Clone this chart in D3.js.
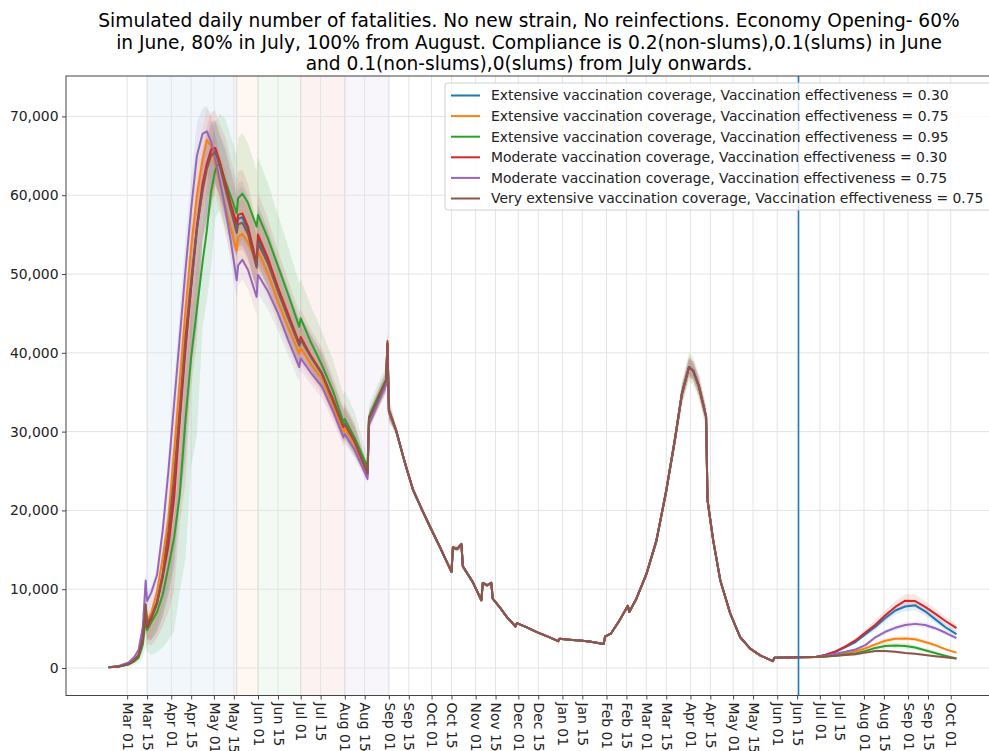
<!DOCTYPE html>
<html>
<head>
<meta charset="utf-8">
<script src="https://cdn.jsdelivr.net/npm/d3@7"></script>
<style>
  body { margin: 0; background: #fff; }
  svg text { font-family: "DejaVu Sans", sans-serif; }
</style>
</head>
<body>
<div id="chart"></div>
<script>
// ---- data ----
var wave1Dates = ["2020-02-17","2020-02-24","2020-03-02","2020-03-06","2020-03-09","2020-03-12","2020-03-14","2020-03-15","2020-03-18","2020-03-22",
  "2020-03-26","2020-03-30","2020-04-03","2020-04-07","2020-04-11","2020-04-15","2020-04-19","2020-04-23","2020-04-26","2020-04-29",
  "2020-05-02","2020-05-05","2020-05-09","2020-05-13","2020-05-17","2020-05-18","2020-05-21","2020-05-25","2020-05-31","2020-06-01",
  "2020-06-08","2020-06-15","2020-06-22","2020-06-30","2020-07-01","2020-07-08","2020-07-16","2020-07-24","2020-07-31","2020-08-01",
  "2020-08-08","2020-08-17","2020-08-18","2020-08-24","2020-08-30","2020-08-31","2020-09-01"];
var midDates = ["2020-09-06","2020-09-12","2020-09-18","2020-09-24","2020-09-30","2020-10-07","2020-10-15","2020-10-16","2020-10-19","2020-10-22",
  "2020-10-23","2020-10-30","2020-11-05","2020-11-06","2020-11-09","2020-11-12","2020-11-13","2020-11-18","2020-11-23","2020-11-29",
  "2020-11-30","2020-12-07","2020-12-14","2020-12-21","2020-12-29","2020-12-30","2021-01-06","2021-01-13","2021-01-20","2021-01-30",
  "2021-01-31","2021-02-04","2021-02-10","2021-02-16","2021-02-17","2021-02-22","2021-03-01","2021-03-08","2021-03-15","2021-03-21",
  "2021-03-26","2021-03-31","2021-04-03","2021-04-07","2021-04-12","2021-04-13","2021-04-17","2021-04-22","2021-04-29","2021-05-06",
  "2021-05-13","2021-05-20","2021-05-29","2021-05-30","2021-06-16","2021-06-28"];
var endDates = ["2021-07-05","2021-07-12","2021-07-19","2021-07-26","2021-08-02","2021-08-09","2021-08-16","2021-08-23","2021-08-30","2021-09-06",
  "2021-09-13","2021-09-20","2021-09-27","2021-10-05"];

// first wave, one array per scenario
var blueWave1 =   [100,200,500,1000,1600,3600,7500,5400,6400,8300, 11800,16800,23000,32000,41000,48300,55500,61000,63700,65400,
  65600,63900,61200,58500,55900,57000,57200,55500,51000,54500, 51600,48000,44700,41000,41700,39600,37300,33800,30600,31000,
  28700,24700,31500,34000,36400,41000,32600];
var orangeWave1 = [100,200,520,1050,1700,3900,8000,6000,7000,9700, 14000,19000,27500,36500,45500,53500,60000,64500,67000,66200,
  63800,61600,58600,55700,53000,54700,55100,54000,51600,53000, 50000,46500,43300,39900,40600,38600,36700,33200,30000,30400,
  28300,24400,31300,33800,36200,40800,32500];
var greenWave1 =  [100,180,450,850,1300,3000,6300,4800,5800,7100, 9300,12800,16500,22000,31500,39500,45500,51500,55500,60500,
  63200,64200,61800,59800,57700,59600,60200,59000,56000,57500, 54500,51000,47500,43300,44400,41400,38400,35000,31200,31600,
  29200,25500,31900,34300,36600,41200,32700];
var redWave1 =    [100,200,500,1000,1600,3600,7500,5200,6300,8200, 11500,15500,21500,31500,40500,48500,56000,61500,64000,65800,
  66000,64300,61500,58800,56400,57500,57700,56000,51400,55000, 52000,48300,45000,41200,42000,39700,37400,34000,30600,31000,
  28700,24700,31600,34000,36500,41200,32700];
var purpleWave1 = [100,250,700,1400,2300,5200,11100,8500,9600,11800, 17500,25000,33500,42000,50500,58300,65000,67800,68100,66800,
  64500,62000,58300,54000,49200,51100,51800,50500,47100,49900, 47800,45000,41700,38200,39300,37500,35700,32500,29300,29700,
  27700,24000,30900,33500,35900,40500,32400];
var brownWave1 =  [100,200,500,1000,1600,3800,8100,5600,6500,8400, 12000,17300,24300,33000,42000,49300,55800,60500,63300,65000,
  65500,63800,60800,58000,55200,56300,56500,55000,50800,53900, 51300,47800,44500,40900,41700,39500,37300,33700,30600,31000,
  28700,24700,31600,34000,36500,41500,32700];

// Sep 2020 - Jun 2021: the scenarios lie on top of each other
var midValues = [30200,26200,22600,20200,17900,15300,12200,15300,15100,15700,
  12900,10900,8600,10800,10500,10800,8800,7700,6450,5270,
  5700,5150,4550,4050,3400,3700,3600,3500,3370,3050,
  4000,4350,6000,7900,7100,8800,11900,16100,22500,28900,
  34800,38200,37700,35700,31900,21300,16200,11100,6900,3900,
  2450,1600,870,1300,1350,1400];

// Jul - Oct 2021
var blueEnd =   [1650,2050,2650,3300,4300,5250,6350,7300,7800,7950,7200,6200,5200,4300];
var orangeEnd = [1500,1650,1850,2100,2500,3000,3450,3700,3750,3650,3300,2900,2400,1950];
var greenEnd =  [1450,1550,1700,1850,2150,2550,2800,2870,2800,2600,2250,1900,1550,1200];
var redEnd =    [1680,2100,2750,3500,4500,5500,6700,7750,8550,8500,7750,6900,6000,5050];
var purpleEnd = [1550,1800,2050,2350,2900,3900,4600,5100,5450,5600,5450,5050,4500,3800];
var brownEnd =  [1450,1550,1650,1750,1950,2150,2150,2050,1900,1800,1650,1500,1350,1200];

// spread of the simulation runs, as a fraction of the value
var bandUpWave1 =   [0.1,0.1,0.1,0.1,0.1, 0.15,0.15,0.15, 0.1,0.1,0.1,0.1,0.1,0.1,0.1, 0.08,0.08, 0.06,0.06,0.06,0.06,0.06,
  0.08,0.08,0.08,0.08,0.08,0.08,0.08,0.08,0.08,0.08,0.08,0.08, 0.07,0.07,0.07,0.07,0.07,0.07,0.07, 0.03,0.03,0.03,0.03,0.03,0.03];
var bandDownWave1 = [0.3,0.3,0.3,0.3,0.3, 0.35,0.35,0.35, 0.45,0.45,0.45,0.45,0.45, 0.35,0.35, 0.22,0.22, 0.1,0.1,0.1,
  0.06,0.06,0.06,0.06,0.06,0.06,0.06,0.06,0.06,0.06,0.06,0.06,0.06,0.06, 0.05,0.05,0.05,0.05,0.05,0.05,0.05, 0.03,0.03,0.03,0.03,0.03,0.03];
var bandMid = [0.015,0.015,0.015,0.015,0.015,0.015,0.015,0.015,0.015,0.015, 0.015,0.015,0.015,0.015,0.015,0.015,0.015,0.015,0.015,0.015,
  0.015,0.015,0.015,0.015,0.015,0.015,0.015,0.015,0.015,0.015, 0.015,0.015,0.015,0.015,0.015,0.015,
  0.03,0.03,0.03,0.03,0.03,0.03,0.03,0.03,0.03, 0.015,0.015,0.015,0.015,0.015,0.015,0.015,0.015,0.015,0.015,0.015];
var bandEnd = [0.05,0.06,0.07,0.08,0.08,0.08,0.08,0.08,0.08,0.08,0.08,0.08,0.08,0.08];

var seriesLabels = [
  "Extensive vaccination coverage, Vaccination effectiveness = 0.30",
  "Extensive vaccination coverage, Vaccination effectiveness = 0.75",
  "Extensive vaccination coverage, Vaccination effectiveness = 0.95",
  "Moderate vaccination coverage, Vaccination effectiveness = 0.30",
  "Moderate vaccination coverage, Vaccination effectiveness = 0.75",
  "Very extensive vaccination coverage, Vaccination effectiveness = 0.75"
];
var seriesColors = ["#1f77b4", "#ff7f0e", "#2ca02c", "#d62728", "#9467bd", "#8c564b"];
var bandScale = [1, 1, 1.6, 1.2, 0.8, 1];

// economy opening phases shaded in the background
var phaseDates = ["2020-03-15", "2020-05-17", "2020-06-01", "2020-07-01", "2020-08-01", "2020-09-01"];
var phaseColors = ["#1f77b4", "#ff7f0e", "#2ca02c", "#d62728", "#9467bd"];
var markerDate = "2021-06-16";

var yTicks = [0, 10000, 20000, 30000, 40000, 50000, 60000, 70000];
var titleLines = [
  "Simulated daily number of fatalities. No new strain, No reinfections. Economy Opening- 60%",
  "in June, 80% in July, 100% from August. Compliance is 0.2(non-slums),0.1(slums) in June",
  "and 0.1(non-slums),0(slums) from July onwards."
];

// ---- layout ----
var svgWidth = 989;
var svgHeight = 751;
var plot = { left: 66, right: 992, top: 76, bottom: 695.5 };

var parseDate = d3.timeParse("%Y-%m-%d");
var allDates = wave1Dates.concat(midDates, endDates).map(parseDate);

var waves = [
  [blueWave1, blueEnd], [orangeWave1, orangeEnd], [greenWave1, greenEnd],
  [redWave1, redEnd], [purpleWave1, purpleEnd], [brownWave1, brownEnd]
];
var bandUp = bandUpWave1.concat(bandMid, bandEnd);
var bandDown = bandDownWave1.concat(bandMid, bandEnd);

var series = waves.map(function(w, s) {
  var values = w[0].concat(midValues, w[1]);
  return values.map(function(v, i) {
    return {
      date: allDates[i],
      value: v,
      lo: Math.max(0, v * (1 - bandDown[i] * bandScale[s])),
      hi: v * (1 + bandUp[i] * bandScale[s])
    };
  });
});

var svg = d3.select("#chart")
  .append("svg")
  .attr("width", svgWidth)
  .attr("height", svgHeight);

var xScale = d3.scaleTime()
  .domain([parseDate("2020-01-18"), parseDate("2021-10-30")])
  .range([plot.left, plot.right]);

var yScale = d3.scaleLinear()
  .domain([-3490, 75130])
  .range([plot.bottom, plot.top]);

// tick every 1st and 15th, Mar 2020 .. Oct 2021
var tickDates = [];
d3.timeMonths(parseDate("2020-03-01"), parseDate("2021-10-02")).forEach(function(m) {
  tickDates.push(m);
  var mid = d3.timeDay.offset(m, 14);
  if (mid < parseDate("2021-10-01")) tickDates.push(mid);
});

var plotArea = svg.append("g");

// phase spans
plotArea.selectAll("rect.phase")
  .data(phaseColors)
  .enter()
  .append("rect")
  .attr("class", "phase")
  .attr("x", (c, i) => xScale(parseDate(phaseDates[i])))
  .attr("width", (c, i) => xScale(parseDate(phaseDates[i + 1])) - xScale(parseDate(phaseDates[i])))
  .attr("y", plot.top)
  .attr("height", plot.bottom - plot.top)
  .attr("fill", c => c)
  .attr("fill-opacity", 0.06)
  .attr("stroke", c => c)
  .attr("stroke-opacity", 0.12)
  .attr("stroke-width", 1);

// grid
plotArea.selectAll("line.vgrid")
  .data(tickDates)
  .enter()
  .append("line")
  .attr("x1", d => xScale(d))
  .attr("x2", d => xScale(d))
  .attr("y1", plot.top)
  .attr("y2", plot.bottom)
  .attr("stroke", "#e4e4e4")
  .attr("stroke-width", 1);

plotArea.selectAll("line.hgrid")
  .data(yTicks)
  .enter()
  .append("line")
  .attr("x1", plot.left)
  .attr("x2", plot.right)
  .attr("y1", d => yScale(d))
  .attr("y2", d => yScale(d))
  .attr("stroke", "#e4e4e4")
  .attr("stroke-width", 1);

// bands
var area = d3.area()
  .x(d => xScale(d.date))
  .y0(d => yScale(d.lo))
  .y1(d => yScale(d.hi));

plotArea.selectAll("path.band")
  .data(series)
  .enter()
  .append("path")
  .attr("d", area)
  .attr("fill", (d, i) => seriesColors[i])
  .attr("fill-opacity", 0.12)
  .attr("stroke", "none");

// lines
var line = d3.line()
  .x(d => xScale(d.date))
  .y(d => yScale(d.value));

plotArea.selectAll("path.series")
  .data(series)
  .enter()
  .append("path")
  .attr("d", line)
  .attr("fill", "none")
  .attr("stroke", (d, i) => seriesColors[i])
  .attr("stroke-width", 2)
  .attr("stroke-linejoin", "round");

// vertical marker
plotArea.append("line")
  .attr("x1", xScale(parseDate(markerDate)))
  .attr("x2", xScale(parseDate(markerDate)))
  .attr("y1", plot.top)
  .attr("y2", plot.bottom)
  .attr("stroke", "#1f77b4")
  .attr("stroke-width", 1.5);

// axes
var bottomAxis = d3.axisBottom(xScale)
  .tickValues(tickDates)
  .tickFormat(d3.timeFormat("%b %d"))
  .tickSize(4)
  .tickSizeOuter(0);

var xAxis = svg.append("g")
  .attr("transform", `translate(0, ${plot.bottom})`)
  .call(bottomAxis);
xAxis.select(".domain").remove();
xAxis.selectAll("line").attr("stroke", "#444");
xAxis.selectAll("text")
  .attr("transform", "rotate(90)")
  .attr("x", 7)
  .attr("y", 0)
  .attr("dy", "0.35em")
  .style("text-anchor", "start")
  .style("font-size", "13.9px")
  .style("fill", "#222");

var leftAxis = d3.axisLeft(yScale)
  .tickValues(yTicks)
  .tickFormat(d3.format(","))
  .tickSize(4)
  .tickPadding(3.5)
  .tickSizeOuter(0);

var yAxis = svg.append("g")
  .attr("transform", `translate(${plot.left}, 0)`)
  .call(leftAxis);
yAxis.select(".domain").remove();
yAxis.selectAll("line").attr("stroke", "#444");
yAxis.selectAll("text")
  .style("font-size", "13.9px")
  .style("fill", "#222");

// frame
svg.append("rect")
  .attr("x", plot.left)
  .attr("y", plot.top)
  .attr("width", plot.right - plot.left)
  .attr("height", plot.bottom - plot.top)
  .attr("fill", "none")
  .attr("stroke", "#444")
  .attr("stroke-width", 1);

// legend
var legend = svg.append("g");
legend.append("rect")
  .attr("x", 445)
  .attr("y", 83)
  .attr("width", 560)
  .attr("height", 127)
  .attr("rx", 3)
  .attr("fill", "#fff")
  .attr("fill-opacity", 0.8)
  .attr("stroke", "#d0d0d0");

var legendRows = legend.selectAll("g.row")
  .data(seriesLabels)
  .enter()
  .append("g")
  .attr("transform", (d, i) => `translate(0, ${95.5 + i * 20.6})`);

legendRows.append("line")
  .attr("x1", 451)
  .attr("x2", 480)
  .attr("stroke", (d, i) => seriesColors[i])
  .attr("stroke-width", 2);

legendRows.append("text")
  .attr("x", 491)
  .attr("dy", "0.35em")
  .style("font-size", "13.9px")
  .style("fill", "#222")
  .text(d => d);

// title
svg.selectAll("text.title")
  .data(titleLines)
  .enter()
  .append("text")
  .attr("x", 529)
  .attr("y", (d, i) => 27 + i * 21.5)
  .style("text-anchor", "middle")
  .style("font-size", "18.6px")
  .style("fill", "#000")
  .text(d => d);
</script>
</body>
</html>
